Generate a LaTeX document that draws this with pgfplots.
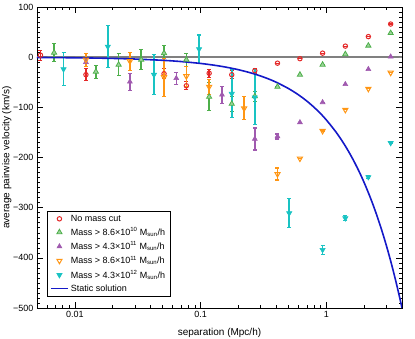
\documentclass[border=0pt]{standalone}
\usepackage{fontspec}
\setmainfont{Liberation Sans}
\usepackage{pgfplots}
\usepackage{pgfplotstable}
\pgfplotsset{compat=1.18}

\definecolor{cRed}{RGB}{228,40,40}
\definecolor{cGreen}{RGB}{77,175,74}
\definecolor{cPurple}{RGB}{160,90,175}
\definecolor{cOrange}{RGB}{255,150,20}
\definecolor{cCyan}{RGB}{25,195,195}
\definecolor{cBlue}{RGB}{20,25,200}

% x = separation (Mpc/h), y = velocity (km/s), e = error
\pgfplotstableread{
x y e
0.00533 4 10
0.01225 -35 12
0.0512 -33 10
0.0771 -57 8
0.117 -32 8
0.177 -35 8
0.270 -27 5
0.409 -12 0
0.617 -3 0
0.934 8 0
1.417 22 0
2.16 41 0
3.25 66 0
}\tblRed

\pgfplotstableread{
x y e
0.00684 9 18
0.0147 -29 13
0.0223 -15 22
0.0337 -5 20
0.0512 8 15
0.0771 -5 13
0.117 -79 28
0.177 -93 15
0.270 -78 10
0.409 -59 0
0.617 -35 0
0.934 -15 0
1.417 6 0
2.16 23 0
3.25 48 0
}\tblGreen

\pgfplotstableread{
x y e
0.01225 -10 8
0.0274 -49 17
0.0641 -42 12
0.148 -75 17
0.270 -163 22
0.409 -158 5
0.617 -130 0
0.934 -90 0
1.417 -54 0
2.16 -24 0
3.25 1 0
}\tblPurple

\pgfplotstableread{
x y e
0.01225 -5 13
0.0274 -8 18
0.0512 -40 38
0.0771 -38 20
0.117 -59 15
0.222 -102 23
0.409 -233 12
0.617 -202 0
0.934 -147 0
1.417 -105 0
2.16 -63 0
3.25 -31 0
}\tblOrange

\pgfplotstableread{
x y e
0.00813 -24 33
0.0183 21 42
0.0426 -35 40
0.0973 16 28
0.177 -73 48
0.270 -80 55
0.507 -311 29
0.934 -384 9
1.417 -321 5
2.16 -239 3
3.25 -171 0
}\tblCyan

\pgfplotstableread{
x y
0.005 -0.625
0.007 -0.875
0.01 -1.25
0.015 -1.875
0.02 -2.5
0.03 -3.75
0.05 -6.25
0.07 -8.75
0.1 -12.5
0.13 -16.25
0.16 -20
0.2 -25
0.25 -31.25
0.3 -37.5
0.35 -43.75
0.4 -50
0.5 -62.5
0.6 -75
0.7 -87.5
0.8 -100
0.9 -112.5
1.0 -125
1.2 -150
1.4 -175
1.6 -200
1.8 -225
2.0 -250
2.25 -281.25
2.5 -312.5
2.75 -343.75
3.0 -375
3.25 -406.25
3.5 -437.5
3.75 -468.75
4.0 -500
}\tblStatic

\begin{document}
\begin{tikzpicture}
\useasboundingbox (-37pt,-30pt) rectangle (378pt,308pt);
\begin{axis}[
    at={(0,0)}, anchor=south west,
    scale only axis, width=365pt, height=301pt,
    xmode=log,
    xmin=0.005, xmax=4, ymin=-500, ymax=100,
    xtick={0.01,0.1,1}, xticklabels={0.01,0.1,1},
    minor xtick={0.005,0.006,0.007,0.008,0.009,0.02,0.03,0.04,0.05,0.06,0.07,0.08,0.09,0.2,0.3,0.4,0.5,0.6,0.7,0.8,0.9,2,3,4},
    ytick={-500,-400,-300,-200,-100,0,100},
    yticklabels={−500,−400,−300,−200,−100,0,100},
    minor y tick num=9,
    tick align=inside,
    major tick length=6pt, minor tick length=3pt,
    every tick/.style={black, line width=0.5pt},
    axis line style={line width=0.6pt},
    ticklabel style={font=\fontsize{9}{10}\selectfont},
    xlabel={separation (Mpc/h)},
    ylabel={average pairwise velocity (km/s)},
    label style={font=\fontsize{10}{12}\selectfont},
    xlabel style={at={(axis description cs:0.5,-0.055)}, anchor=north},
    ylabel style={at={(axis description cs:-0.083,0.5)}, anchor=center},
    legend style={at={(0.027,0.037)}, anchor=south west,
        font=\fontsize{9}{10.5}\selectfont, draw=black, line width=0.5pt,
        row sep=0.8pt, inner xsep=3pt, inner ysep=2pt},
    legend cell align=left,
    error bars/y dir=both, error bars/y explicit,
]
\addplot[gray, line width=1.6pt, forget plot] coordinates {(0.005,0) (4,0)};

\addplot[only marks, mark=o, mark size=2.2pt, cRed, line width=1pt,
    error bars/error bar style={cRed, line width=1.4pt},
    error bars/error mark options={cRed, rotate=90, mark size=2pt, line width=1.2pt}]
    table[x=x, y=y, y error=e] {\tblRed};
\addlegendentry{No mass cut}

\addplot[only marks, mark=triangle*, mark size=3pt, color=cGreen, mark options={draw=cGreen, fill=cGreen!55}, line width=0.8pt,
    error bars/error bar style={cGreen, line width=1.4pt},
    error bars/error mark options={cGreen, rotate=90, mark size=2pt, line width=1.2pt}]
    table[x=x, y=y, y error=e] {\tblGreen};
\addlegendentry{Mass > 8.6×10\textsuperscript{10} M\textsubscript{sun}/h}

\addplot[only marks, mark=triangle*, mark size=2.8pt, cPurple, line width=0.6pt,
    error bars/error bar style={cPurple, line width=1.5pt},
    error bars/error mark options={cPurple, rotate=90, mark size=2pt, line width=1.2pt}]
    table[x=x, y=y, y error=e] {\tblPurple};
\addlegendentry{Mass > 4.3×10\textsuperscript{11} M\textsubscript{sun}/h}

\addplot[only marks, mark=triangle, mark options={rotate=180, fill=white}, mark size=3pt, cOrange, line width=1pt,
    error bars/error bar style={cOrange, line width=1.5pt},
    error bars/error mark options={cOrange, rotate=90, mark size=2pt, line width=1.2pt}]
    table[x=x, y=y, y error=e] {\tblOrange};
\addlegendentry{Mass > 8.6×10\textsuperscript{11} M\textsubscript{sun}/h}

\addplot[only marks, mark=triangle*, mark options={rotate=180}, mark size=3pt, cCyan, line width=0.6pt,
    error bars/error bar style={cCyan, line width=1.8pt},
    error bars/error mark options={cCyan, rotate=90, mark size=2pt, line width=1.2pt}]
    table[x=x, y=y, y error=e] {\tblCyan};
\addlegendentry{Mass > 4.3×10\textsuperscript{12} M\textsubscript{sun}/h}

\addplot[cBlue, line width=1.6pt, smooth, no markers, error bars/y dir=none] table[x=x, y=y] {\tblStatic};
\addlegendentry{Static solution}
\end{axis}
\end{tikzpicture}
\end{document}
